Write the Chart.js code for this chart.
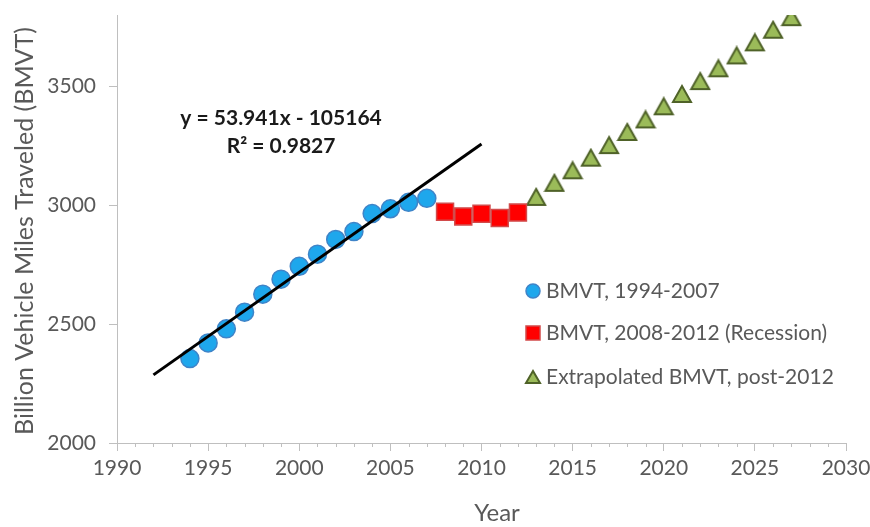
<!DOCTYPE html>
<html>
<head>
<meta charset="utf-8">
<script src="https://cdn.jsdelivr.net/npm/chart.js@4/dist/chart.umd.min.js"></script>
<style>
  html, body { margin: 0; padding: 0; background: #ffffff; }
  #wrap { width: 870px; height: 527px; }
</style>
</head>
<body>
<div id="wrap"><canvas id="c" width="870" height="527"></canvas></div>
<script>
// Billion vehicle miles traveled (BMVT), by year
const yearsPre = [1994, 1995, 1996, 1997, 1998, 1999, 2000, 2001, 2002, 2003, 2004, 2005, 2006, 2007];
const bmvtPre = [2355, 2421, 2480, 2550, 2626, 2689, 2743, 2794, 2856, 2889, 2965, 2985, 3012, 3029];

const yearsRecession = [2008, 2009, 2010, 2011, 2012];
const bmvtRecession = [2973, 2953, 2964, 2946, 2969];

const yearsExtrap = [2013, 2014, 2015, 2016, 2017, 2018, 2019, 2020, 2021, 2022, 2023, 2024, 2025, 2026, 2027];
const bmvtExtrap = [3035, 3094, 3147, 3200, 3253, 3308, 3361, 3416, 3468, 3522, 3576, 3630, 3685, 3738, 3791];

// Linear trend fitted to 1994-2007, shown from 1992 to 2010
const trendSlope = 53.941;
const trendIntercept = -105164;
const trendRSquared = 0.9827;
const trendYears = [1992, 2010];

const seriesLabels = ['BMVT, 1994-2007', 'BMVT, 2008-2012 (Recession)', 'Extrapolated BMVT, post-2012'];
const xTicks = [1990, 1995, 2000, 2005, 2010, 2015, 2020, 2025, 2030];
const yTicks = [2000, 2500, 3000, 3500];
const xRange = [1990, 2030];
const yRange = [2000, 3800];

const toPoints = (xs, ys) => xs.map((x, i) => ({ x: x, y: ys[i] }));
const trendPoints = trendYears.map(x => ({ x: x, y: trendSlope * x + trendIntercept }));

const AXIS_GRAY = '#BFBFBF';
const TEXT_GRAY = '#595959';
const FONT = "Lato, 'Open Sans', sans-serif";

// Triangle marker centred on its bounding box
function makeTriangle(w, h, lw) {
  const cv = document.createElement('canvas');
  cv.width = w + lw * 2;
  cv.height = h + lw * 2;
  const g = cv.getContext('2d');
  g.beginPath();
  g.moveTo(lw + w / 2, lw);
  g.lineTo(lw + w, lw + h);
  g.lineTo(lw, lw + h);
  g.closePath();
  g.fillStyle = '#9BBB59';
  g.fill();
  g.lineJoin = 'miter';
  g.lineWidth = lw;
  g.strokeStyle = '#4F6228';
  g.stroke();
  return cv;
}
const triMarker = makeTriangle(18, 16, 2);
const triLegend = makeTriangle(14, 12, 2);

// Short yearly ticks below the x axis
const minorTicks = {
  id: 'minorTicks',
  afterDraw(chart) {
    const xs = chart.scales.x;
    const ctx = chart.ctx;
    ctx.save();
    ctx.strokeStyle = AXIS_GRAY;
    ctx.lineWidth = 1;
    ctx.beginPath();
    for (let yr = xRange[0]; yr <= xRange[1]; yr++) {
      if (xTicks.includes(yr)) continue;
      const px = Math.round(xs.getPixelForValue(yr)) + 0.5;
      ctx.moveTo(px, xs.top);
      ctx.lineTo(px, xs.top + 4);
    }
    ctx.stroke();
    ctx.restore();
  }
};

// Axis titles
const axisTitles = {
  id: 'axisTitles',
  afterDraw(chart) {
    const { ctx, chartArea } = chart;
    ctx.save();
    ctx.fillStyle = TEXT_GRAY;
    ctx.font = '24px ' + FONT;
    ctx.textAlign = 'center';
    ctx.textBaseline = 'middle';
    ctx.fillText('Year', 497, 513);
    ctx.translate(25, (chartArea.top + chartArea.bottom) / 2 + 2);
    ctx.rotate(-Math.PI / 2);
    ctx.font = '25px ' + FONT;
    ctx.fillText('Billion Vehicle Miles Traveled (BMVT)', 0, 0);
    ctx.restore();
  }
};

const trendLabel = {
  id: 'trendLabel',
  afterDatasetsDraw(chart) {
    const { ctx, scales: { x, y } } = chart;
    ctx.save();
    ctx.fillStyle = '#1a1a1a';
    ctx.font = 'bold 21px ' + FONT;
    ctx.textAlign = 'center';
    ctx.textBaseline = 'middle';
    const cx = x.getPixelForValue(1999);
    ctx.fillText('y = ' + trendSlope + 'x - ' + Math.abs(trendIntercept), cx, y.getPixelForValue(3367));
    ctx.fillText('R\u00B2 = ' + trendRSquared, cx, y.getPixelForValue(3249));
    ctx.restore();
  }
};

const legendBox = {
  id: 'legendBox',
  afterDraw(chart) {
    const ctx = chart.ctx;
    const lx = 533, tx = 546;
    const rows = [291, 333, 377];
    ctx.save();
    ctx.beginPath();
    ctx.arc(lx, rows[0], 7, 0, Math.PI * 2);
    ctx.fillStyle = '#1EA7EC';
    ctx.fill();
    ctx.lineWidth = 1.5;
    ctx.strokeStyle = '#3F84C8';
    ctx.stroke();
    ctx.fillStyle = '#FF0000';
    ctx.fillRect(lx - 7, rows[1] - 7, 14, 14);
    ctx.strokeStyle = '#D24A4A';
    ctx.strokeRect(lx - 7, rows[1] - 7, 14, 14);
    ctx.drawImage(triLegend, lx - triLegend.width / 2, rows[2] - triLegend.height / 2);
    ctx.fillStyle = TEXT_GRAY;
    ctx.font = '21px ' + FONT;
    ctx.textAlign = 'left';
    ctx.textBaseline = 'middle';
    seriesLabels.forEach((t, i) => ctx.fillText(t, tx, rows[i]));
    ctx.restore();
  }
};

new Chart(document.getElementById('c'), {
  type: 'scatter',
  data: {
    datasets: [
      {
        type: 'line',
        label: 'Linear trend',
        data: trendPoints,
        borderColor: '#000000',
        borderWidth: 3,
        pointRadius: 0,
        fill: false,
        order: 0
      },
      {
        label: seriesLabels[0],
        data: toPoints(yearsPre, bmvtPre),
        pointStyle: 'circle',
        pointRadius: 9,
        backgroundColor: '#1EA7EC',
        borderColor: '#3F84C8',
        borderWidth: 1.5,
        order: 1
      },
      {
        label: seriesLabels[1],
        data: toPoints(yearsRecession, bmvtRecession),
        pointStyle: 'rect',
        pointRadius: 12,
        backgroundColor: '#FF0000',
        borderColor: '#D24A4A',
        borderWidth: 1.5,
        order: 1
      },
      {
        label: seriesLabels[2],
        data: toPoints(yearsExtrap, bmvtExtrap),
        pointStyle: triMarker,
        pointRadius: 10,
        backgroundColor: '#9BBB59',
        borderColor: '#4F6228',
        order: 1
      }
    ]
  },
  options: {
    responsive: false,
    animation: false,
    devicePixelRatio: 1,
    layout: { padding: { left: 0, right: 24, top: 15, bottom: 0 } },
    plugins: {
      legend: { display: false },
      tooltip: { enabled: false }
    },
    scales: {
      x: {
        type: 'linear',
        min: xRange[0],
        max: xRange[1],
        afterFit(scale) {
          scale.height = 84;
          scale.paddingLeft = 0;
          scale.paddingRight = 0;
        },
        afterBuildTicks(scale) { scale.ticks = xTicks.map(v => ({ value: v })); },
        ticks: {
          color: TEXT_GRAY,
          font: { family: FONT, size: 21 },
          padding: 5,
          maxRotation: 0,
          autoSkip: false,
          callback: v => String(v)
        },
        grid: { drawOnChartArea: false, drawTicks: true, tickLength: 8, color: AXIS_GRAY },
        border: { display: true, color: AXIS_GRAY, width: 1 }
      },
      y: {
        type: 'linear',
        min: yRange[0],
        max: yRange[1],
        afterFit(scale) {
          scale.width = 117;
          scale.paddingTop = 0;
          scale.paddingBottom = 0;
        },
        afterBuildTicks(scale) { scale.ticks = yTicks.map(v => ({ value: v })); },
        ticks: {
          color: TEXT_GRAY,
          font: { family: FONT, size: 21 },
          padding: 13,
          autoSkip: false,
          callback: v => String(v)
        },
        grid: { drawOnChartArea: false, drawTicks: true, tickLength: 8, color: AXIS_GRAY },
        border: { display: true, color: AXIS_GRAY, width: 1 }
      }
    }
  },
  plugins: [minorTicks, trendLabel, legendBox, axisTitles]
});
</script>
</body>
</html>
